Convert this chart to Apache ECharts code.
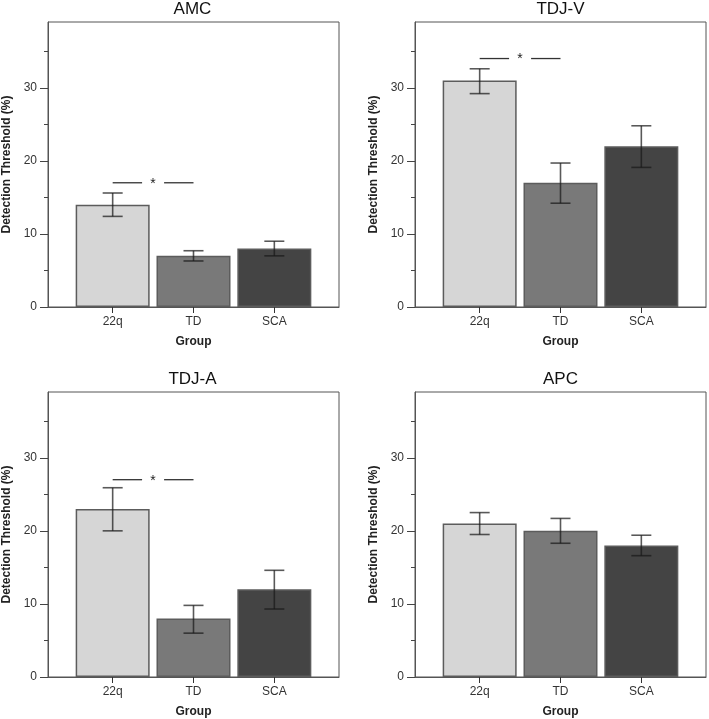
<!DOCTYPE html>
<html>
<head>
<meta charset="utf-8">
<script src="https://cdn.jsdelivr.net/npm/echarts@6/dist/echarts.min.js"></script>
<style>
html,body{margin:0;padding:0;background:#fff;}
#chart{width:709px;height:719px;}
</style>
</head>
<body>
<div id="chart"></div>
<script>
// ---- data ----
const categories = ['22q', 'TD', 'SCA'];
const panelTitles = ['AMC', 'TDJ-V', 'TDJ-A', 'APC'];

const amcMeans  = [14, 7, 8];
const amcLow    = [12.4, 6.3, 7.0];
const amcHigh   = [15.6, 7.7, 9.0];

const tdjvMeans = [31, 17, 22];
const tdjvLow   = [29.2, 14.2, 19.1];
const tdjvHigh  = [32.6, 19.7, 24.8];

const tdjaMeans = [23, 8, 12];
const tdjaLow   = [20.0, 6.0, 9.3];
const tdjaHigh  = [25.9, 9.8, 14.6];

const apcMeans  = [21, 20, 18];
const apcLow    = [19.5, 18.3, 16.6];
const apcHigh   = [22.5, 21.7, 19.4];

// significance brackets: [fromCategoryIndex, toCategoryIndex, height]
const amcSig  = [0, 1, 17];
const tdjvSig = [0, 1, 34];
const tdjaSig = [0, 1, 27];
const apcSig  = null;

const yTicks      = [0, 10, 20, 30];
const yMinorTicks = [5, 15, 25, 35];
const yMax = 39;

// ---- styling / layout ----
const FONT = "'Liberation Sans', Arial, Helvetica, sans-serif";
const barFills = ['#d6d6d6', '#797979', '#444444'];
const frameColor = '#555555';
const panels = [
  { means: amcMeans,  low: amcLow,  high: amcHigh,  sig: amcSig },
  { means: tdjvMeans, low: tdjvLow, high: tdjvHigh, sig: tdjvSig },
  { means: tdjaMeans, low: tdjaLow, high: tdjaHigh, sig: tdjaSig },
  { means: apcMeans,  low: apcLow,  high: apcHigh,  sig: apcSig }
];
const gridBoxes = [
  { left: 46,  top: 22,  width: 293, height: 285 },
  { left: 415, top: 22,  width: 291, height: 285 },
  { left: 46,  top: 392, width: 293, height: 285 },
  { left: 415, top: 392, width: 291, height: 285 }
];

const option = {
  animation: false,
  backgroundColor: '#ffffff',
  textStyle: { fontFamily: FONT },
  title: [],
  grid: [],
  xAxis: [],
  yAxis: [],
  series: []
};

panels.forEach((p, k) => {
  const g = gridBoxes[k];
  option.title.push({
    text: panelTitles[k],
    left: g.left + g.width / 2,
    top: g.top - 21,
    textAlign: 'center',
    padding: 0,
    textStyle: { fontFamily: FONT, fontSize: 17, fontWeight: 'normal', color: '#111' }
  });
  option.grid.push({
    left: g.left, top: g.top, width: g.width, height: g.height,
    show: true, borderColor: frameColor, borderWidth: 1, backgroundColor: 'transparent',
    containLabel: false
  });
  option.xAxis.push({
    gridIndex: k,
    type: 'value',
    position: 'bottom',
    min: -0.8, max: 2.8,
    name: 'Group',
    nameLocation: 'middle',
    nameGap: 29,
    nameTextStyle: { fontFamily: FONT, fontSize: 12, fontWeight: 'bold', color: '#222' },
    axisLine: { show: true, onZero: false, lineStyle: { color: frameColor, width: 1 } },
    axisTick: { show: true, customValues: [0, 1, 2], length: 6, lineStyle: { color: '#333' } },
    axisLabel: {
      customValues: [0, 1, 2], margin: 9,
      formatter: v => categories[Math.round(v)] || '',
      fontFamily: FONT, fontSize: 12, color: '#333'
    },
    splitLine: { show: false }
  });
  option.yAxis.push({
    gridIndex: k,
    type: 'value',
    position: 'left',
    min: 0, max: yMax,
    name: 'Detection Threshold (%)',
    nameLocation: 'middle',
    nameGap: 35,
    nameTextStyle: { fontFamily: FONT, fontSize: 12, fontWeight: 'bold', color: '#222' },
    axisLine: { show: true, onZero: false, lineStyle: { color: frameColor, width: 1 } },
    axisTick: { show: true, customValues: yTicks, length: 8, lineStyle: { color: '#444' } },
    axisLabel: { customValues: yTicks, margin: 11, fontFamily: FONT, fontSize: 12, color: '#333' },
    splitLine: { show: false }
  });
  option.yAxis.push({
    gridIndex: k,
    type: 'value',
    position: 'left',
    offset: 0,
    min: 0, max: yMax,
    axisLine: { show: false, onZero: false },
    axisTick: { show: true, customValues: yMinorTicks, length: 4, lineStyle: { color: '#444' } },
    axisLabel: { show: false },
    splitLine: { show: false }
  });

  option.series.push({
    type: 'bar',
    xAxisIndex: k,
    yAxisIndex: 2 * k,
    barWidth: 74,
    silent: true,
    z: 2,
    itemStyle: { borderColor: '#5c5c5c', borderWidth: 1.5 },
    data: p.means.map((v, i) => ({ value: [i, v], itemStyle: { color: barFills[i] } }))
  });

  option.series.push({
    type: 'custom',
    xAxisIndex: k,
    yAxisIndex: 2 * k,
    silent: true,
    z: 10,
    clip: false,
    encode: { x: 0, y: [1, 2] },
    data: p.means.map((v, i) => [i, p.low[i], p.high[i]]),
    renderItem: (params, api) => {
      const x = api.value(0);
      const top = api.coord([x, api.value(2)]);
      const bot = api.coord([x, api.value(1)]);
      const hw = 10;
      const st = { stroke: 'rgba(25,25,25,0.72)', lineWidth: 1.6 };
      return {
        type: 'group',
        children: [
          { type: 'line', shape: { x1: top[0], y1: top[1], x2: bot[0], y2: bot[1] }, style: st },
          { type: 'line', shape: { x1: top[0] - hw, y1: top[1], x2: top[0] + hw, y2: top[1] }, style: st },
          { type: 'line', shape: { x1: bot[0] - hw, y1: bot[1], x2: bot[0] + hw, y2: bot[1] }, style: st }
        ]
      };
    }
  });

  if (p.sig) {
    option.series.push({
      type: 'custom',
      xAxisIndex: k,
      yAxisIndex: 2 * k,
      silent: true,
      z: 10,
      encode: { x: [0, 1], y: 2 },
      data: [p.sig],
      renderItem: (params, api) => {
        const y = api.value(2);
        const a = api.coord([api.value(0), y]);
        const b = api.coord([api.value(1), y]);
        const mid = (a[0] + b[0]) / 2;
        const gap = 11;
        const st = { stroke: '#333', lineWidth: 1.3 };
        return {
          type: 'group',
          children: [
            { type: 'line', shape: { x1: a[0], y1: a[1], x2: mid - gap, y2: a[1] }, style: st },
            { type: 'line', shape: { x1: mid + gap, y1: b[1], x2: b[0], y2: b[1] }, style: st },
            { type: 'text', style: { text: '*', x: mid, y: a[1] + 1, align: 'center', verticalAlign: 'middle',
                fontSize: 14, fontFamily: FONT, fill: '#222' } }
          ]
        };
      }
    });
  }
});

const chart = echarts.init(document.getElementById('chart'), null, { renderer: 'canvas' });
chart.setOption(option);
</script>
</body>
</html>
